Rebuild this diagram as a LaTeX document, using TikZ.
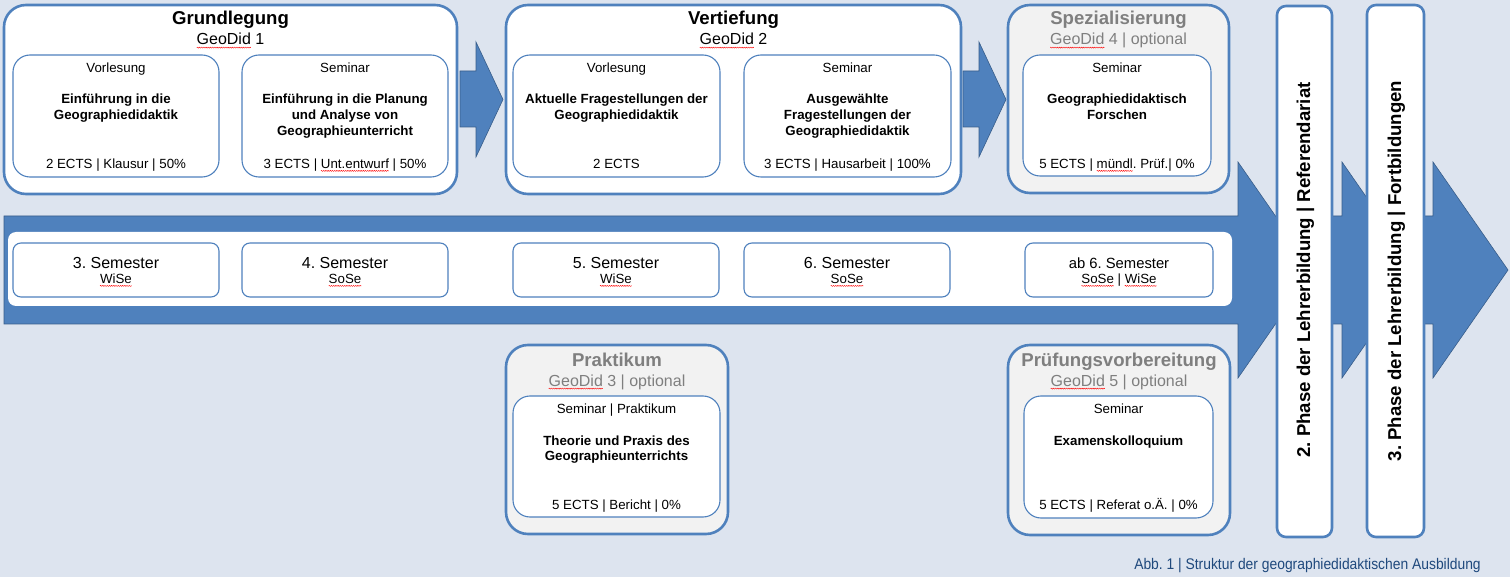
\documentclass[tikz,border=0pt]{standalone}
\usepackage{fontspec}
\setmainfont{Liberation Sans}
\usetikzlibrary{decorations.pathmorphing}
\frenchspacing
\definecolor{bg}{RGB}{221,228,239}
\definecolor{ablue}{RGB}{79,129,189}
\definecolor{adark}{RGB}{56,93,138}
\definecolor{optfill}{RGB}{242,242,242}
\definecolor{optgray}{RGB}{127,127,127}
\definecolor{capblue}{RGB}{31,73,125}
\newdimen\sqwd
\newcommand\sq[1]{\setbox0=\hbox{#1}\sqwd=\wd0\relax\rlap{\tikz[baseline=0pt]{\useasboundingbox (0pt,0pt); \draw[red, line width=0.4pt, decorate, decoration={zigzag, amplitude=0.55pt, segment length=2.2pt}] (0pt,-2.6pt) -- (\sqwd,-2.6pt);}}\box0\relax}
\tikzset{
 grp/.style={draw=ablue, line width=2.6pt, rounded corners=22pt, fill=white},
 grpopt/.style={grp, fill=optfill},
 inbox/.style={draw=ablue, line width=1.1pt, rounded corners=17pt, fill=white},
 sembox/.style={draw=ablue, line width=1.1pt, rounded corners=8pt, fill=white},
 barbox/.style={draw=ablue, line width=2.6pt, rounded corners=9pt, fill=white},
 blk/.style={fill=ablue, draw=adark, line width=0.6pt},
 txt/.style={inner sep=0pt, anchor=base},
 ttl/.style={txt, font=\fontsize{18.6}{22}\selectfont\bfseries},
 ttlg/.style={ttl, text=optgray},
 sub/.style={txt, font=\fontsize{16}{19}\selectfont},
 subg/.style={sub, text=optgray},
 lab/.style={txt, font=\fontsize{13.3}{15.6}\selectfont},
 bld/.style={txt, font=\fontsize{13.3}{15.6}\selectfont\bfseries},
 semt/.style={txt, font=\fontsize{16}{19}\selectfont},
 vert/.style={txt, rotate=90, font=\fontsize{18.6}{22}\selectfont\bfseries},
 capt/.style={txt, text=capblue, font=\fontsize{15.4}{18}\selectfont},
}
\begin{document}
\begin{tikzpicture}[x=1pt,y=-1pt]
\useasboundingbox (0,0) rectangle (1510,577);
\fill[bg] (0,0) rectangle (1510,577);
% main timeline arrow
\draw[blk] (4,216) -- (1238,216) -- (1238,162) -- (1313,270) -- (1238,378) -- (1238,324) -- (4,324) -- cycle;
\fill[white, rounded corners=8pt] (8,232) rectangle (1232,306);
% semester boxes
\draw[sembox] (13,243) rectangle (219,297);
\draw[sembox] (242,243) rectangle (448,297);
\draw[sembox] (513,243) rectangle (719,297);
\draw[sembox] (744,243) rectangle (950,297);
\draw[sembox] (1025,243) rectangle (1213,297);
\node[semt] (s3) at (116,268.3) {3. Semester};
\node[lab] (s3b) at (116,283.3) {\sq{WiSe}};
\node[semt] (s4) at (345,268.3) {4. Semester};
\node[lab] (s4b) at (345,283.3) {\sq{SoSe}};
\node[semt] (s5) at (616,268.3) {5. Semester};
\node[lab] (s5b) at (616,283.3) {\sq{WiSe}};
\node[semt] (s6) at (847,268.3) {6. Semester};
\node[lab] (s6b) at (847,283.3) {\sq{SoSe}};
\node[txt, font=\fontsize{14.8}{18}\selectfont] (s7) at (1119,268.3) {ab 6. Semester};
\node[lab] (s7b) at (1119,283.3) {\sq{SoSe} | \sq{WiSe}};
% further arrows
\draw[blk] (1320,216) -- (1342,216) -- (1342,162) -- (1417,270) -- (1342,378) -- (1342,324) -- (1320,324) -- cycle;
\draw[blk] (1420,216) -- (1433,216) -- (1433,162) -- (1508,270) -- (1433,378) -- (1433,324) -- (1420,324) -- cycle;
% phase bars
\draw[barbox] (1277,6) rectangle (1332,537);
\draw[barbox] (1367,5) rectangle (1424,537);
\node[vert] (ph2) at (1310,270) {2. Phase der Lehrerbildung | Referendariat};
\node[vert] (ph3) at (1401,271) {3. Phase der Lehrerbildung | Fortbildungen};
% small arrows
\draw[blk] (460,71) -- (476,71) -- (476,42) -- (503,99.5) -- (476,157) -- (476,127) -- (460,127) -- cycle;
\draw[blk] (963,71) -- (979,71) -- (979,42) -- (1006,99.5) -- (979,157) -- (979,127) -- (963,127) -- cycle;
% Grundlegung
\draw[grp] (4,5) rectangle (457,194);
\node[ttl] (g1t) at (230.5,25) {Grundlegung};
\node[sub] (g1s) at (230.5,45) {\sq{GeoDid} 1};
\draw[inbox] (13,55) rectangle (219,177);
\draw[inbox] (242,55) rectangle (448,177);
\node[lab] (g1a) at (116,72.5) {Vorlesung};
\node[bld] (g1a1) at (116,104) {Einführung in die};
\node[bld] (g1a2) at (116,119.6) {Geographiedidaktik};
\node[lab] (g1ae) at (116,168.3) {2 ECTS | Klausur | 50\%};
\node[lab] (g1b) at (345,72.5) {Seminar};
\node[bld] (g1b1) at (345,104) {Einführung in die Planung};
\node[bld] (g1b2) at (345,119.6) {und Analyse von};
\node[bld] (g1b3) at (345,135.2) {Geographieunterricht};
\node[lab] (g1be) at (345,168.3) {3 ECTS | \sq{Unt.entwurf} | 50\%};
% Vertiefung
\draw[grp] (506,5) rectangle (961,194);
\node[ttl] (g2t) at (733.5,25) {Vertiefung};
\node[sub] (g2s) at (733.5,45) {\sq{GeoDid} 2};
\draw[inbox] (513,55) rectangle (720,177);
\draw[inbox] (744,55) rectangle (951,177);
\node[lab] (g2a) at (616.5,72.5) {Vorlesung};
\node[bld] (g2a1) at (616.5,104) {Aktuelle Fragestellungen der};
\node[bld] (g2a2) at (616.5,119.6) {Geographiedidaktik};
\node[lab] (g2ae) at (616.5,168.3) {2 ECTS};
\node[lab] (g2b) at (847.5,72.5) {Seminar};
\node[bld] (g2b1) at (847.5,104) {Ausgewählte};
\node[bld] (g2b2) at (847.5,119.6) {Fragestellungen der};
\node[bld] (g2b3) at (847.5,135.2) {Geographiedidaktik};
\node[lab] (g2be) at (847.5,168.3) {3 ECTS | Hausarbeit | 100\%};
% Spezialisierung
\draw[grpopt] (1008,5) rectangle (1229,193);
\node[ttlg] (g4t) at (1118.5,25) {Spezialisierung};
\node[subg] (g4s) at (1118.5,45) {\sq{GeoDid} 4 | optional};
\draw[inbox] (1023,55) rectangle (1211,176);
\node[lab] (g4a) at (1117,72.5) {Seminar};
\node[bld] (g4a1) at (1117,104) {Geographiedidaktisch};
\node[bld] (g4a2) at (1117,119.6) {Forschen};
\node[lab] (g4ae) at (1117,168.3) {5 ECTS | \sq{mündl}. Prüf.| 0\%};
% Praktikum
\draw[grpopt] (506,345) rectangle (728,534);
\node[ttlg] (g3t) at (617,366) {Praktikum};
\node[subg] (g3s) at (617,386) {\sq{GeoDid} 3 | optional};
\draw[inbox] (513,396) rectangle (720,517);
\node[lab] (g3a) at (616.5,413.3) {Seminar | Praktikum};
\node[bld] (g3a1) at (616.5,445) {Theorie und Praxis des};
\node[bld] (g3a2) at (616.5,460.6) {Geographieunterrichts};
\node[lab] (g3ae) at (616.5,509.3) {5 ECTS | Bericht | 0\%};
% Pruefungsvorbereitung
\draw[grpopt] (1008,345) rectangle (1230,535);
\node[ttlg] (g5t) at (1119,366) {Prüfungsvorbereitung};
\node[subg] (g5s) at (1119,386) {\sq{GeoDid} 5 | optional};
\draw[inbox] (1024,396) rectangle (1213,518);
\node[lab] (g5a) at (1118.5,413.3) {Seminar};
\node[bld] (g5a1) at (1118.5,445) {Examenskolloquium};
\node[lab] (g5ae) at (1118.5,509.3) {5 ECTS | Referat o.Ä. | 0\%};
% caption
\node[capt] (cap) at (1307.5,569) {\scalebox{0.9}[1]{Abb. 1 | Struktur der geographiedidaktischen Ausbildung}};
\end{tikzpicture}
\end{document}
